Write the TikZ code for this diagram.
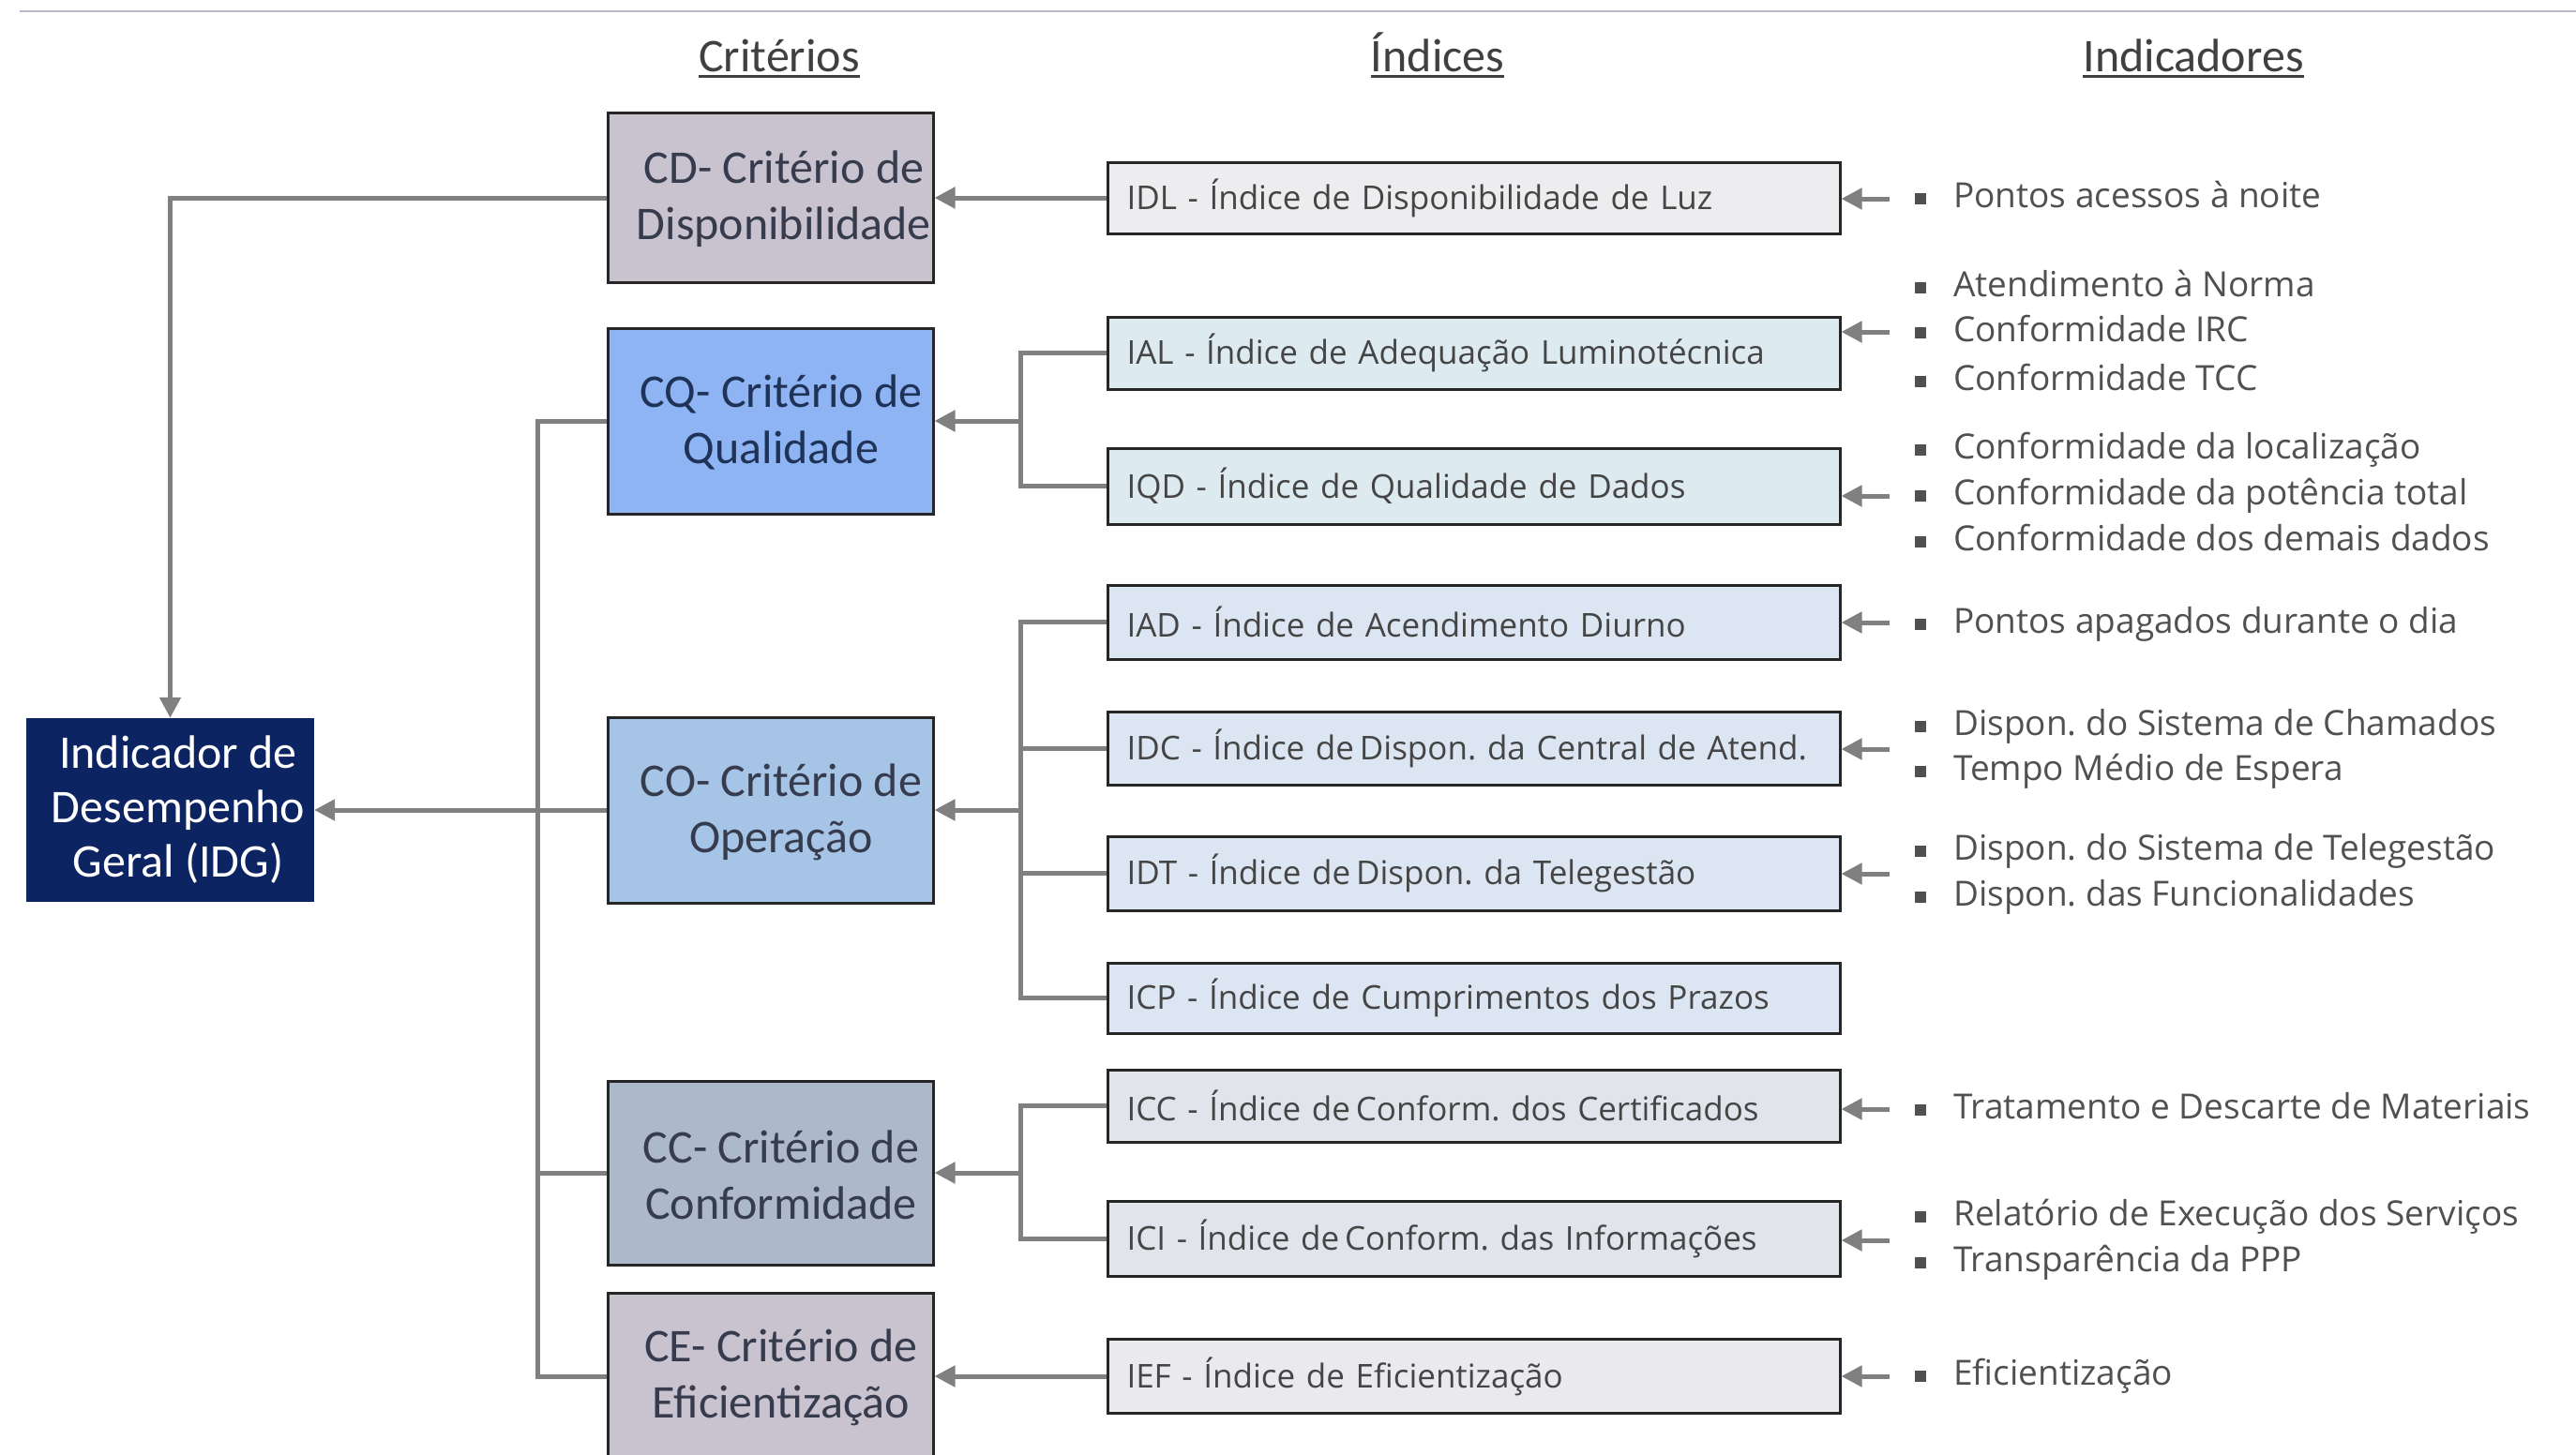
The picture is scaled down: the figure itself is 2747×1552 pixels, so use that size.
\documentclass[tikz,border=0pt]{standalone}
\usepackage{fontspec}
\setmainfont{Carlito}
\newfontfamily\osans{Open Sans}
\usetikzlibrary{arrows.meta}
\frenchspacing
\definecolor{topline}{HTML}{B9BDC9}
\definecolor{hdrfg}{HTML}{404040}
\definecolor{critfg}{HTML}{363C4E}
\definecolor{cqfg}{HTML}{1F3257}
\definecolor{cdfill}{HTML}{C9C2CF}
\definecolor{cqfill}{HTML}{8EB4F3}
\definecolor{cofill}{HTML}{A6C4E6}
\definecolor{ccfill}{HTML}{ADB9CA}
\definecolor{idgfill}{HTML}{0C2462}
\definecolor{connc}{HTML}{808080}
\definecolor{idxfg}{HTML}{454545}
\definecolor{indfg}{HTML}{505050}
\definecolor{fidl}{HTML}{EDEDF0}
\definecolor{fiq}{HTML}{DDEAF0}
\definecolor{fio}{HTML}{DCE6F2}
\definecolor{fic}{HTML}{E1E5EB}
\definecolor{fie}{HTML}{EAEAEE}
\begin{document}
\frenchspacing
\begin{tikzpicture}[x=1pt,y=-1pt,
  hdr/.style={inner sep=0pt, text=hdrfg, font=\fontsize{50}{60}\selectfont, anchor=base},
  critbox/.style={draw=black!85, line width=3pt, minimum width=347pt, inner sep=0pt},
  crittxt/.style={inner sep=0pt, align=center, text=critfg, font=\fontsize{50}{60}\selectfont},
  idxbox/.style={draw=black!85, line width=3pt, text width=740pt, inner xsep=20.5pt, inner ysep=0pt,
     align=left, text=idxfg, font=\osans\fontsize{35}{42}\selectfont\frenchspacing},
  conn/.style={draw=connc, line width=5pt},
  arr/.style={-{Triangle[length=22pt,width=22pt]}},
  bulletsq/.style={fill=indfg, minimum size=12pt, inner sep=0pt},
  indtxt/.style={anchor=west, inner sep=0pt, text=indfg, font=\osans\fontsize{37}{44}\selectfont\frenchspacing,
     text height=27pt, text depth=9pt}
]
\useasboundingbox (0,0) rectangle (2747,1552);
% top rule
\coordinate (tl) at (21,12);
\coordinate (tr) at (2747,12);
\draw[topline, line width=2.5pt] (tl) -- (tr);

% headers
\node[hdr] (h1) at (831,77) {Critérios};
\node[hdr] (h2) at (1533,77) {Índices};
\node[hdr] (h3) at (2339,77) {Indicadores};
\foreach \h in {h1,h2,h3}{
  \draw[hdrfg, line width=3pt] ([yshift=-5pt]\h.base west) -- ([yshift=-5pt]\h.base east);
}

% IDG
\node[fill=idgfill, minimum width=307pt, minimum height=196pt, inner sep=0pt] (idg) at (181.5,864) {};
\node[inner sep=0pt, align=center, text=white, font=\fontsize{50}{58}\selectfont] (idgt) at (190,864)
  {Indicador de\\Desempenho\\Geral (IDG)};

% criteria
\node[critbox, fill=cdfill, minimum height=180pt] (cd) at (821.5,211) {};
\node[critbox, fill=cqfill, minimum height=198pt] (cq) at (821.5,449) {};
\node[critbox, fill=cofill, minimum height=198pt] (co) at (821.5,864) {};
\node[critbox, fill=ccfill, minimum height=196pt] (cc) at (821.5,1251) {};
\node[critbox, fill=cdfill, minimum height=178pt] (ce) at (821.5,1468) {};
\node[crittxt] (cdt) at (836,212) {CD- Critério de\\Disponibilidade};
\node[crittxt, text=cqfg] (cqt) at (833,450) {CQ- Critério de\\Qualidade};
\node[crittxt] (cot) at (833,866) {CO- Critério de\\Operação};
\node[crittxt] (cct) at (833,1253) {CC- Critério de\\Conformidade};
\node[crittxt] (cet) at (833,1469) {CE- Critério de\\Eficientização};

% indices
\node[idxbox, fill=fidl, minimum height=76pt] (idl) at (1571.5,211) {IDL - Índice de Disponibilidade de Luz};
\node[idxbox, fill=fiq, minimum height=77pt] (ial) at (1571.5,376.5) {IAL - Índice de Adequação Luminotécnica};
\node[idxbox, fill=fiq, minimum height=81pt] (iqd) at (1571.5,518.5) {IQD - Índice de Qualidade de Dados};
\node[idxbox, fill=fio, minimum height=79pt] (iad) at (1571.5,663.5) {IAD - Índice de Acendimento Diurno};
\node[idxbox, fill=fio, minimum height=78pt] (idc) at (1571.5,798) {IDC - Índice de\,Dispon. da Central de Atend.};
\node[idxbox, fill=fio, minimum height=79pt] (idt) at (1571.5,931.5) {IDT - Índice de\,Dispon. da Telegestão};
\node[idxbox, fill=fio, minimum height=75pt] (icp) at (1571.5,1064.5) {ICP - Índice de Cumprimentos dos Prazos};
\node[idxbox, fill=fic, minimum height=77pt] (icc) at (1571.5,1179.5) {ICC - Índice de\,Conform. dos Certificados};
\node[idxbox, fill=fic, minimum height=80pt] (ici) at (1571.5,1321) {ICI - Índice de\,Conform. das Informações};
\node[idxbox, fill=fie, minimum height=79pt] (ief) at (1571.5,1468) {IEF - Índice de Eficientização};

% connectors criteria -> IDG
\coordinate (tq) at (573,449);
\draw[conn] (cq.west) -- (tq) -- (tq |- ce.west) -- (ce.west);
\draw[conn] (cc.west) -- (cc.west -| tq);
\draw[conn, arr] (co.west) -- (idg.east);
\draw[conn, arr] (cd.west) -- (cd.west -| idg.north) -- (idg.north);

% connectors indices -> criteria
\draw[conn, arr] (idl.west) -- (idl.west -| cd.east);
\coordinate (bq) at (1088,449);
\draw[conn] (ial.west) -- (ial.west -| bq) -- (iqd.west -| bq) -- (iqd.west);
\draw[conn, arr] (bq) -- (cq.east);
\coordinate (bo) at (1088,864);
\draw[conn] (iad.west) -- (iad.west -| bo) -- (icp.west -| bo) -- (icp.west);
\draw[conn] (idc.west) -- (idc.west -| bo);
\draw[conn] (idt.west) -- (idt.west -| bo);
\draw[conn, arr] (bo) -- (co.east);
\coordinate (bc) at (1088,1251);
\draw[conn] (icc.west) -- (icc.west -| bc) -- (ici.west -| bc) -- (ici.west);
\draw[conn, arr] (bc) -- (cc.east);
\draw[conn, arr] (ief.west) -- (ief.west -| ce.east);

% indicator arrows
\foreach \n/\y in {idl/212, ial/354, iqd/529, iad/664, idc/799, idt/932, icc/1183, ici/1323, ief/1468}{
  \coordinate (a\n) at (2015,\y);
  \draw[conn, arr] (a\n) -- (a\n -| \n.east);
}

% indicators
\foreach \y/\t [count=\i] in {
  212/Pontos acessos à noite,
  307/Atendimento à Norma,
  355/Conformidade IRC,
  407/Conformidade TCC,
  480/Conformidade da localização,
  529/Conformidade da potência total,
  578/Conformidade dos demais dados,
  666/Pontos apagados durante o dia,
  775/Dispon. do Sistema de Chamados,
  823/Tempo Médio de Espera,
  908/Dispon. do Sistema de Telegestão,
  957/Dispon. das Funcionalidades,
  1184/Tratamento e Descarte de Materiais,
  1298/Relatório de Execução dos Serviços,
  1347/Transparência da PPP,
  1468/Eficientização}{
  \node[bulletsq] (b\i) at (2048,\y) {};
  \node[indtxt] (t\i) at (2083,\y) {\t};
}
\end{tikzpicture}
\end{document}
